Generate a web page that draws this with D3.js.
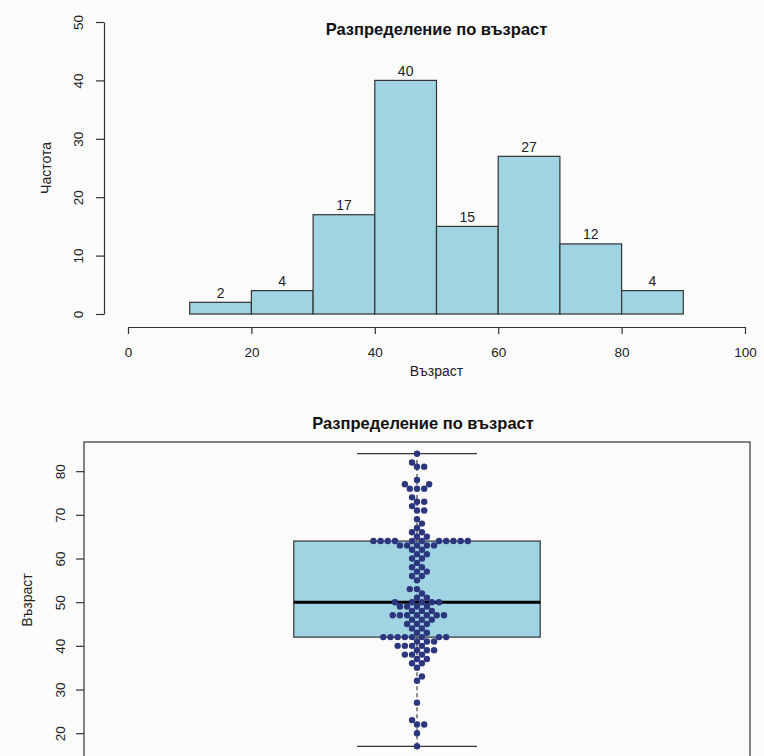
<!DOCTYPE html>
<html>
<head>
<meta charset="utf-8">
<script src="https://cdn.jsdelivr.net/npm/d3@7"></script>
<style>
  html, body { margin: 0; padding: 0; background: #fbfbfb; }
  svg { display: block; font-family: "Liberation Sans", Arial, sans-serif; }
</style>
</head>
<body>
<svg id="chart" width="764" height="756"></svg>
<script>
// ---------- data ----------
const histTitle = "Разпределение по възраст";
const histXLabel = "Възраст";
const histYLabel = "Частота";
const binStarts = [10, 20, 30, 40, 50, 60, 70, 80];
const binEnds   = [20, 30, 40, 50, 60, 70, 80, 90];
const binCounts = [2, 4, 17, 40, 15, 27, 12, 4];
const histXTicks = [0, 20, 40, 60, 80, 100];
const histYTicks = [0, 10, 20, 30, 40, 50];

const boxTitle = "Разпределение по възраст";
const boxYLabel = "Възраст";
const boxStats = [17, 42, 50, 64, 84]; // min, Q1, median, Q3, max
const boxYTicks = [20, 30, 40, 50, 60, 70, 80];
const ages = [
  17, 20,
  22, 22, 23, 27,
  32, 33, 35, 36, 36, 37, 37, 38, 38, 38, 39, 39, 39, 40, 40, 40, 40,
  41, 41, 41, 42, 42, 42, 42, 42, 42, 42, 42, 43, 43, 44, 44, 45, 45, 45,
  46, 46, 46, 47, 47, 47, 47, 47, 47, 47, 48, 48, 48, 49, 49, 49, 49,
  50, 50, 50, 50, 50,
  51, 51, 52, 53, 53, 55, 56, 56, 57, 57, 58, 58, 59, 60, 60,
  61, 61, 62, 62, 63, 63, 63, 63, 63,
  64, 64, 64, 64, 64, 64, 64, 64, 64, 64, 64,
  65, 65, 66, 66, 67, 68, 69,
  71, 71, 72, 73, 73, 74, 76, 76, 76, 77, 77, 78,
  81, 81, 82, 84
];

// ---------- styles ----------
const barFill = "#a0d4e2";
const lineCol = "#333333";
const textCol = "#222222";
const dotCol = "#2b367e";

const svg = d3.select("#chart");

// ========== Histogram ==========
const hx = d3.scaleLinear().domain([0, 100]).range([128, 745]);
const hy = d3.scaleLinear().domain([0, 50]).range([314, 22]);
const g1 = svg.append("g");

g1.selectAll("rect.bar")
  .data(binCounts)
  .join("rect")
  .attr("class", "bar")
  .attr("x", (d, i) => hx(binStarts[i]))
  .attr("width", (d, i) => hx(binEnds[i]) - hx(binStarts[i]))
  .attr("y", d => hy(d))
  .attr("height", d => hy(0) - hy(d))
  .attr("fill", barFill)
  .attr("stroke", lineCol)
  .attr("stroke-width", 1.2);

g1.selectAll("text.blab")
  .data(binCounts)
  .join("text")
  .attr("class", "blab")
  .attr("x", (d, i) => (hx(binStarts[i]) + hx(binEnds[i])) / 2)
  .attr("y", d => hy(d) - 4.5)
  .attr("text-anchor", "middle")
  .attr("font-size", 14)
  .attr("fill", textCol)
  .text(d => d);

// x axis
const hxAxis = g1.append("g")
  .attr("transform", "translate(0,327)")
  .call(d3.axisBottom(hx).tickValues(histXTicks).tickSize(7).tickSizeOuter(0).tickPadding(13));
// y axis
const hyAxis = g1.append("g")
  .attr("transform", "translate(104,0)")
  .call(d3.axisLeft(hy).tickValues(histYTicks).tickSize(8).tickSizeOuter(0));

function styleAxis(ax) {
  ax.select(".domain").attr("stroke", lineCol).attr("stroke-width", 1.2);
  ax.selectAll(".tick line").attr("stroke", lineCol).attr("stroke-width", 1.2);
  ax.selectAll(".tick text").attr("fill", textCol).attr("font-size", 13.5)
    .attr("font-family", "Liberation Sans, Arial, sans-serif");
}
styleAxis(hxAxis);
styleAxis(hyAxis);
hyAxis.selectAll(".tick text")
  .attr("x", 0).attr("y", -26).attr("dy", "0.35em")
  .attr("text-anchor", "middle")
  .attr("transform", "rotate(-90)");

g1.append("text")
  .attr("x", (hx(0) + hx(100)) / 2).attr("y", 35)
  .attr("text-anchor", "middle").attr("font-weight", "bold").attr("font-size", 16.5)
  .attr("fill", "#111").text(histTitle);
g1.append("text")
  .attr("x", (hx(0) + hx(100)) / 2).attr("y", 376)
  .attr("text-anchor", "middle").attr("font-size", 14)
  .attr("fill", textCol).text(histXLabel);
g1.append("text")
  .attr("transform", "translate(51," + ((hy(0) + hy(50)) / 2) + ") rotate(-90)")
  .attr("text-anchor", "middle").attr("font-size", 14)
  .attr("fill", textCol).text(histYLabel);

// ========== Boxplot + beeswarm ==========
const bx = d3.scaleLinear().domain([0.5, 1.5]).range([84, 750]);
const by = d3.scaleLinear().domain([14.32, 86.68]).range([758, 442]);
const g2 = svg.append("g");
const boxHalf = 0.185, stapleHalf = 0.09;

// whiskers (dashed)
g2.selectAll("line.wh")
  .data([[boxStats[0], boxStats[1]], [boxStats[3], boxStats[4]]])
  .join("line")
  .attr("x1", bx(1)).attr("x2", bx(1))
  .attr("y1", d => by(d[0])).attr("y2", d => by(d[1]))
  .attr("stroke", lineCol).attr("stroke-width", 1.1)
  .attr("stroke-dasharray", "4,3");
// staples
g2.selectAll("line.st")
  .data([boxStats[0], boxStats[4]])
  .join("line")
  .attr("x1", bx(1 - stapleHalf)).attr("x2", bx(1 + stapleHalf))
  .attr("y1", d => by(d)).attr("y2", d => by(d))
  .attr("stroke", lineCol).attr("stroke-width", 1.2);
// box
g2.append("rect")
  .attr("x", bx(1 - boxHalf)).attr("width", bx(1 + boxHalf) - bx(1 - boxHalf))
  .attr("y", by(boxStats[3])).attr("height", by(boxStats[1]) - by(boxStats[3]))
  .attr("fill", barFill).attr("stroke", lineCol).attr("stroke-width", 1.2);
// median
g2.append("line")
  .attr("x1", bx(1 - boxHalf)).attr("x2", bx(1 + boxHalf))
  .attr("y1", by(boxStats[2])).attr("y2", by(boxStats[2]))
  .attr("stroke", "#000").attr("stroke-width", 3);

// beeswarm (swarm layout, ascending priority, elliptical collision)
const sx = 7.2, sy = 6.0;
const placed = [];
function clash(c, y) {
  return placed.some(p => {
    const a = (p.dx - c) / sx, b = (p.y - y) / sy;
    return a * a + b * b < 1 - 1e-6;
  });
}
ages.slice().sort((a, b) => a - b).forEach(v => {
  const y = by(v);
  const cands = [0];
  placed.forEach(p => {
    const t = (p.y - y) / sy;
    if (Math.abs(t) < 1) {
      const dx = sx * Math.sqrt(1 - t * t);
      cands.push(p.dx + dx, p.dx - dx);
    }
  });
  const ok = cands.filter(c => !clash(c, y));
  ok.sort((a, b) => (Math.abs(a) - Math.abs(b)) || (b - a));
  placed.push({ v, y, dx: ok[0] });
});
g2.selectAll("circle.pt")
  .data(placed)
  .join("circle")
  .attr("cx", d => bx(1) + d.dx)
  .attr("cy", d => d.y)
  .attr("r", 3.2)
  .attr("fill", dotCol);

// frame
g2.append("rect")
  .attr("x", bx(0.5)).attr("y", by(86.68))
  .attr("width", bx(1.5) - bx(0.5)).attr("height", by(14.32) - by(86.68))
  .attr("fill", "none").attr("stroke", lineCol).attr("stroke-width", 1.2);

const byAxis = g2.append("g")
  .attr("transform", "translate(" + bx(0.5) + ",0)")
  .call(d3.axisLeft(by).tickValues(boxYTicks).tickSize(8).tickSizeOuter(0));
styleAxis(byAxis);
byAxis.select(".domain").remove();
byAxis.selectAll(".tick text")
  .attr("x", 0).attr("y", -24).attr("dy", "0.35em")
  .attr("text-anchor", "middle")
  .attr("transform", "rotate(-90)");

g2.append("text")
  .attr("x", 423).attr("y", 429)
  .attr("text-anchor", "middle").attr("font-weight", "bold").attr("font-size", 16.5)
  .attr("fill", "#111").text(boxTitle);
g2.append("text")
  .attr("transform", "translate(32," + ((by(14.32) + by(86.68)) / 2) + ") rotate(-90)")
  .attr("text-anchor", "middle").attr("font-size", 14)
  .attr("fill", textCol).text(boxYLabel);
</script>
</body>
</html>
